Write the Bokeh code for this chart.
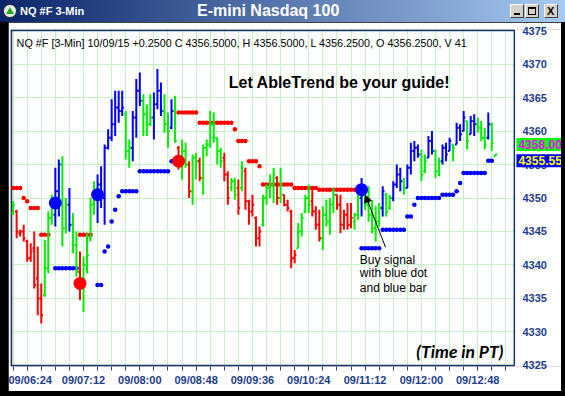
import numpy as np
from bokeh.plotting import figure
from bokeh.layouts import column
from bokeh.models import Range1d, FixedTicker, Label, Arrow, NormalHead, ColumnDataSource, Div
from bokeh.embed import file_html
from bokeh.resources import INLINE

# ---------------------------------------------------------------------------
# NQ #F 3-minute bars, 10/09/15 (first bar 06:12 PT).
# trend colour per bar: b = strong up (blue), r = strong down (red), g = neutral
trend = list(
    "g" "rrrrrrrr" "ggg" "bb" "gg" "b" "gg" "r" "gggg" "bbbbbbbb" "gg" "bbb" "ggg"
    "bbb" "gg" "b" "g" "r" "gg" "r" "gg" "r" "gggggg" "rr" "gg" "r" "g" "rrrrr"
    "gggg" "r" "g" "rrrr" "gggg" "rrr" "gggg" "rrrrr" "gg" "b" "ggggg" "b" "gg"
    "bbb" "g" "bbbb" "gg" "bb" "gg" "bbb" "g" "bbb" "g" "bb" "ggg" "b" "gg"
)

bar_open = [
    4347.75, 4348.0, 4344.75, 4345.0, 4343.5, 4341.0, 4342.5, 4338.0, 4335.0, 4335.5,
    4339.5, 4347.0, 4347.5, 4351.0, 4355.0, 4345.5, 4349.0, 4346.0, 4343.0, 4339.0,
    4337.0, 4340.0, 4344.0, 4349.0, 4350.0, 4352.0, 4350.0, 4357.5, 4359.0, 4361.0,
    4363.5, 4363.0, 4362.5, 4357.0, 4357.5, 4362.0, 4366.0, 4364.5, 4362.5, 4361.0,
    4362.0, 4364.0, 4366.0, 4363.0, 4361.0, 4360.5, 4363.0, 4357.5, 4355.0, 4357.0,
    4355.0, 4351.0, 4356.0, 4355.5, 4353.0, 4357.5, 4358.0, 4361.0, 4359.0, 4357.0,
    4356.0, 4353.5, 4351.5, 4352.5, 4351.5, 4351.5, 4354.0, 4349.5, 4348.0, 4347.0,
    4344.0, 4346.0, 4350.0, 4351.5, 4352.0, 4353.0, 4350.0, 4350.5, 4349.0, 4348.0,
    4341.0, 4342.5, 4345.0, 4348.0, 4350.0, 4349.5, 4348.0, 4346.0, 4344.0, 4347.5,
    4346.5, 4349.0, 4350.5, 4349.0, 4346.0, 4347.5, 4346.0, 4346.5, 4347.5, 4350.0,
    4351.5, 4349.0, 4347.5, 4345.5, 4346.5, 4348.5, 4350.5, 4348.5, 4350.0, 4352.0,
    4353.5, 4352.5, 4351.5, 4354.5, 4357.0, 4357.5, 4356.5, 4354.0, 4356.0, 4358.5,
    4357.0, 4354.0, 4355.5, 4357.5, 4357.0, 4358.0, 4358.0, 4360.5, 4360.0, 4361.5,
    4359.5, 4361.5, 4361.0, 4360.5, 4359.0, 4359.0, 4361.0, 4356.25,
]
bar_high = [
    4349.5, 4348.25, 4345.25, 4346.0, 4343.75, 4343.25, 4345.0, 4342.75, 4337.25, 4343.75,
    4348.0, 4350.5, 4354.5, 4355.75, 4356.25, 4350.0, 4351.5, 4347.75, 4345.0, 4342.0,
    4341.25, 4344.75, 4350.0, 4352.5, 4353.5, 4354.75, 4358.0, 4360.25, 4364.75, 4366.0,
    4366.0, 4366.0, 4363.0, 4358.75, 4363.0, 4367.75, 4368.75, 4365.5, 4364.0, 4365.5,
    4365.75, 4369.25, 4367.25, 4365.5, 4362.75, 4364.75, 4365.25, 4357.75, 4358.75, 4358.25,
    4355.5, 4356.5, 4356.75, 4356.0, 4358.0, 4358.75, 4363.0, 4362.75, 4359.0, 4357.5,
    4356.75, 4354.0, 4353.0, 4353.0, 4352.75, 4355.5, 4354.5, 4349.75, 4350.5, 4347.25,
    4345.75, 4350.5, 4352.0, 4353.5, 4354.5, 4353.25, 4354.5, 4350.5, 4349.75, 4348.25,
    4342.25, 4346.25, 4347.75, 4350.5, 4352.0, 4351.5, 4348.75, 4348.25, 4348.75, 4349.75,
    4350.0, 4351.5, 4350.5, 4350.5, 4348.25, 4349.25, 4349.25, 4347.75, 4350.5, 4353.0,
    4351.5, 4351.75, 4349.75, 4348.75, 4349.25, 4351.75, 4350.75, 4350.5, 4352.5, 4355.0,
    4354.5, 4353.0, 4355.0, 4358.25, 4358.5, 4358.0, 4357.25, 4356.5, 4359.25, 4360.0,
    4357.25, 4356.0, 4358.0, 4358.25, 4359.0, 4358.0, 4361.25, 4361.0, 4363.0, 4361.5,
    4362.25, 4362.5, 4362.0, 4361.5, 4360.5, 4362.75, 4361.25, 4356.5,
]
bar_low = [
    4347.5, 4344.0, 4344.25, 4343.5, 4340.5, 4340.5, 4336.5, 4332.5, 4331.25, 4335.25,
    4338.75, 4346.0, 4345.75, 4347.25, 4342.75, 4344.75, 4345.0, 4341.75, 4338.25, 4334.75,
    4333.0, 4338.75, 4343.5, 4347.5, 4346.25, 4348.5, 4346.0, 4357.25, 4358.5, 4359.25,
    4361.25, 4362.25, 4355.75, 4354.5, 4355.5, 4359.0, 4363.75, 4359.25, 4359.25, 4360.75,
    4358.75, 4363.25, 4362.25, 4359.75, 4357.5, 4360.25, 4358.25, 4354.25, 4352.75, 4354.5,
    4350.0, 4349.0, 4352.75, 4352.5, 4350.5, 4356.25, 4357.5, 4358.25, 4355.0, 4354.5,
    4352.5, 4349.0, 4351.0, 4349.75, 4347.5, 4351.0, 4348.25, 4346.0, 4347.25, 4342.75,
    4342.75, 4345.75, 4349.0, 4350.0, 4349.25, 4349.0, 4349.25, 4348.75, 4348.0, 4339.5,
    4340.25, 4342.5, 4344.25, 4347.75, 4347.75, 4347.25, 4345.25, 4343.5, 4342.25, 4345.75,
    4344.5, 4347.75, 4348.25, 4344.75, 4345.25, 4345.25, 4345.5, 4345.25, 4346.75, 4347.25,
    4348.25, 4346.5, 4344.75, 4343.5, 4345.75, 4347.25, 4347.25, 4348.25, 4349.5, 4351.5,
    4351.0, 4350.5, 4351.5, 4353.5, 4355.5, 4356.0, 4352.5, 4353.75, 4356.0, 4356.5,
    4353.0, 4353.25, 4355.0, 4355.5, 4357.0, 4355.5, 4358.0, 4358.5, 4360.0, 4357.25,
    4359.5, 4359.25, 4359.75, 4358.5, 4357.25, 4358.75, 4357.0, 4356.25,
]
bar_close = [
    4349.0, 4345.0, 4345.0, 4344.0, 4341.0, 4342.0, 4337.0, 4335.0, 4332.5, 4339.5,
    4347.0, 4347.5, 4351.0, 4355.0, 4345.5, 4349.0, 4346.0, 4343.0, 4339.0, 4337.0,
    4340.0, 4341.5, 4349.0, 4350.0, 4352.0, 4350.0, 4357.5, 4359.0, 4361.0, 4363.5,
    4363.0, 4363.5, 4357.0, 4357.5, 4362.0, 4366.0, 4364.5, 4362.5, 4361.0, 4362.0,
    4364.0, 4366.0, 4363.0, 4361.0, 4360.0, 4363.0, 4358.5, 4355.0, 4357.0, 4355.0,
    4351.0, 4356.0, 4355.5, 4353.0, 4357.5, 4358.0, 4361.0, 4359.0, 4357.0, 4355.5,
    4353.5, 4350.0, 4352.5, 4350.5, 4348.5, 4354.5, 4349.5, 4348.0, 4349.0, 4344.0,
    4345.0, 4350.0, 4351.5, 4352.0, 4353.5, 4350.0, 4352.0, 4349.0, 4348.5, 4341.0,
    4341.5, 4345.0, 4347.0, 4350.0, 4349.0, 4348.0, 4346.0, 4344.0, 4347.5, 4346.5,
    4349.0, 4350.5, 4349.0, 4346.0, 4347.5, 4346.0, 4347.0, 4347.5, 4350.0, 4351.5,
    4349.0, 4347.5, 4345.5, 4346.5, 4348.5, 4351.0, 4348.0, 4350.0, 4352.0, 4353.5,
    4352.5, 4351.5, 4354.5, 4357.0, 4357.5, 4356.5, 4353.5, 4355.5, 4358.5, 4357.0,
    4354.0, 4355.5, 4357.5, 4356.5, 4358.5, 4357.5, 4360.5, 4359.5, 4362.0, 4358.5,
    4361.5, 4361.0, 4360.5, 4359.0, 4358.0, 4361.0, 4358.25, 4356.5,
]

# trailing stops: (first bar, last bar, level)
red_stop_runs = [
    (0, 2, 4351.5), (3, 3, 4350.0), (4, 4, 4349.5), (5, 7, 4348.5), (8, 10, 4344.5),
    (19, 22, 4344.5), (47, 52, 4362.75), (53, 62, 4361.25), (63, 63, 4360.25),
    (64, 66, 4358.5), (67, 69, 4355.5), (70, 70, 4354.75), (71, 79, 4352.0),
    (80, 86, 4351.5), (87, 98, 4351.25),
]
blue_stop_runs = [
    (12, 18, 4339.5), (24, 25, 4337.0), (26, 26, 4342.0), (27, 27, 4342.75),
    (28, 28, 4346.5), (29, 29, 4348.25), (30, 30, 4350.25), (31, 35, 4351.0),
    (36, 44, 4354.0), (45, 45, 4355.5), (99, 104, 4342.5), (105, 111, 4345.25),
    (112, 113, 4347.25), (114, 114, 4349.0), (115, 121, 4350.0), (122, 125, 4350.5),
    (126, 126, 4351.0), (127, 127, 4352.25), (128, 134, 4353.75), (135, 136, 4355.55),
]

# entry signals
buy_bars = [12, 24, 99]
buy_levels = [4349.25, 4350.5, 4351.25]
sell_bars = [19, 47]
sell_levels = [4337.25, 4355.5]

# axis labels
time_tick_bars = [4, 20, 36, 52, 68, 84, 100, 116, 132]
time_tick_labels = ["09/06:24", "09/07:12", "09/08:00", "09/08:48", "09/09:36",
                    "09/10:24", "09/11:12", "09/12:00", "09/12:48"]
price_ticks = [4325, 4330, 4335, 4340, 4345, 4350, 4355, 4360, 4365, 4370, 4375]

last_price = 4358.00
last_stop = 4355.55

header = ("NQ #F [3-Min] 10/09/15  +0.2500 C 4356.5000, H 4356.5000, "
          "L 4356.2500, O 4356.2500, V 41")

# ---------------------------------------------------------------------------
FONT = "Liberation Sans"
NAVY = "#1e3c8c"
FRAME = "#17346e"
COLORS = {"b": "#0000ff", "r": "#ff0000", "g": "#00ee00"}

# chart box: bars -0.45 .. 142.4, prices 4325 .. 4375; the drawing area runs on to
# the right edge so the value boxes can sit over the price scale
X_LO, X_HI = -0.45, 142.4
Y_LO, Y_HI = 4325, 4375

n = len(bar_open)
xs = np.arange(n)
src = ColumnDataSource(dict(
    x=xs, xl=xs - 0.5, xr=xs + 0.5,
    o=bar_open, h=bar_high, l=bar_low, c=bar_close,
    color=[COLORS[t] for t in trend],
))

# ---- window title bar -----------------------------------------------------
btn = ("position:absolute;top:4px;width:14px;height:14px;box-sizing:border-box;"
       "background:#d4d0c8;border:1px solid;border-color:#ffffff #404040 #404040 #ffffff;")
title_html = f"""
<div style="position:relative;width:565px;height:22px;overflow:hidden;
 background:linear-gradient(to right,#0a246a,#a6caf0);font-family:'{FONT}',Arial,sans-serif;">
 <div style="position:absolute;left:3px;top:4px;width:14px;height:14px;border-radius:50%;
  background:#f0f0f0;border:1px solid #303030;box-sizing:border-box;"></div>
 <div style="position:absolute;left:6px;top:7px;width:0;height:0;border-left:4px solid transparent;
  border-right:4px solid transparent;border-bottom:7px solid #1faa1f;"></div>
 <span style="position:absolute;left:20px;top:4px;color:white;font-weight:bold;font-size:11px;
  line-height:14px;white-space:nowrap;">NQ #F 3-Min</span>
 <span style="position:absolute;left:197px;top:2px;color:white;font-weight:bold;font-size:16px;
  line-height:18px;white-space:nowrap;">E-mini Nasdaq 100</span>
 <div style="{btn}left:510px;"><div style="position:absolute;left:3px;top:8px;width:6px;height:2px;background:black;"></div></div>
 <div style="{btn}left:525px;"><div style="position:absolute;left:2px;top:2px;width:8px;height:8px;box-sizing:border-box;border:1px solid black;border-top-width:2px;"></div></div>
 <div style="{btn}left:544px;"><span style="position:absolute;left:2px;top:-1px;font-size:11px;font-weight:bold;line-height:14px;color:black;">X</span></div>
</div>
"""
title_bar = Div(text=title_html, width=565, height=22, margin=0)

# ---- price chart ----------------------------------------------------------
p = figure(width=553, height=369, x_range=Range1d(-0.739, 155.8),
           y_range=Range1d(4324.85, 4375.15), toolbar_location=None, output_backend="svg",
           y_axis_location="right", min_border_left=2, min_border_right=0,
           min_border_top=7, min_border_bottom=25, margin=(0, 4, 5, 8))
p.background_fill_color = "white"
p.border_fill_color = "white"
p.outline_line_color = None

p.xgrid.ticker = FixedTicker(ticks=list(range(0, 141, 4)))
p.ygrid.ticker = FixedTicker(ticks=price_ticks[1:-1])
p.grid.grid_line_color = "#c4f2c4"
p.grid.grid_line_width = 1

xa = p.xaxis[0]
xa.ticker = FixedTicker(ticks=time_tick_bars, minor_ticks=list(range(0, 141, 4)))
xa.major_label_overrides = {b: s for b, s in zip(time_tick_bars, time_tick_labels)}
xa.axis_line_color = None
xa.major_tick_in = 0
xa.major_tick_out = 4
xa.minor_tick_in = 0
xa.minor_tick_out = 4
xa.major_tick_line_color = NAVY
xa.minor_tick_line_color = NAVY
xa.major_label_standoff = 3
xa.major_label_text_font = FONT
xa.major_label_text_font_style = "bold"
xa.major_label_text_font_size = "11px"
xa.major_label_text_color = NAVY

ya = p.yaxis[0]
ya.ticker = FixedTicker(ticks=price_ticks)
ya.axis_line_color = None
ya.major_tick_in = 0
ya.major_tick_out = 0
ya.minor_tick_line_color = None
ya.major_label_standoff = -39
ya.major_label_text_font = FONT
ya.major_label_text_font_style = "bold"
ya.major_label_text_font_size = "11px"
ya.major_label_text_color = NAVY

# white price-scale strip and the chart box border
p.quad(left=[X_HI], right=[160], bottom=[4320], top=[4380], fill_color="white", line_color=None)
p.quad(left=[X_LO], right=[X_HI], bottom=[Y_LO], top=[Y_HI], fill_color=None,
       line_color=FRAME, line_width=1.5)


def expand(runs):
    bx, by = [], []
    for first, last, level in runs:
        for i in range(first, last + 1):
            bx.append(i)
            by.append(level)
    return np.array(bx), np.array(by)


for runs, col in ((red_stop_runs, "#ff0000"), (blue_stop_runs, "#0000ff")):
    sx, sy = expand(runs)
    p.segment(x0=sx - 0.5, y0=sy, x1=sx + 0.5, y1=sy, line_color=col, line_width=1.5)
    p.scatter(sx, sy, size=4.5, marker="circle", fill_color=col, line_color=None)

# OHLC bars
p.segment(x0="x", y0="l", x1="x", y1="h", line_color="color", line_width=2, source=src)
p.segment(x0="xl", y0="o", x1="x", y1="o", line_color="color", line_width=2, source=src)
p.segment(x0="x", y0="c", x1="xr", y1="c", line_color="color", line_width=2, source=src)

# signal dots
p.scatter(buy_bars, buy_levels, size=13, marker="circle", fill_color="#0000ff", line_color=None)
p.scatter(sell_bars, sell_levels, size=13, marker="circle", fill_color="#ff0000", line_color=None)

# texts
p.add_layout(Label(x=1.0, y=4373.2, text=header, text_font=FONT, text_font_size="10.8px",
                   text_baseline="middle", text_color="black"))
p.add_layout(Label(x=92.7, y=4367.3, text="Let AbleTrend be your guide!", text_font=FONT,
                   text_font_style="bold", text_font_size="16px", text_align="center",
                   text_baseline="middle", text_color="black"))
for yy, line in zip([4340.8, 4338.75, 4336.6], ["Buy signal", "with blue dot", "and blue bar"]):
    p.add_layout(Label(x=98.5, y=yy, text=line, text_font=FONT, text_font_size="12px",
                       text_baseline="middle", text_color="black"))
p.add_layout(Arrow(end=NormalHead(size=7, fill_color="black", line_color="black"),
                   x_start=105.8, y_start=4342.65, x_end=100.1, y_end=4350.4,
                   line_color="black", line_width=1))
p.add_layout(Label(x=139.3, y=4327.1, text="(Time in PT)", text_font="Lato",
                   text_font_style="bold italic", text_font_size="17.5px", text_align="right",
                   text_baseline="middle", text_color="black"))

# current value boxes on the price scale
p.add_layout(Label(x=143.0, y=last_price, text=f"{last_price:.2f}", text_font=FONT,
                   text_font_style="bold", text_font_size="12px", text_baseline="middle",
                   text_color="#ff00ff", background_fill_color="#00ff00", padding=2))
p.add_layout(Label(x=143.0, y=last_stop, text=f"{last_stop:.2f}", text_font=FONT,
                   text_font_style="bold", text_font_size="12px", text_baseline="middle",
                   text_color="#ffff00", background_fill_color="#0000ff", padding=2))

page = column(title_bar, p, styles={"background-color": "black"}, spacing=0)
open("out.html", "w").write(file_html(page, INLINE))
